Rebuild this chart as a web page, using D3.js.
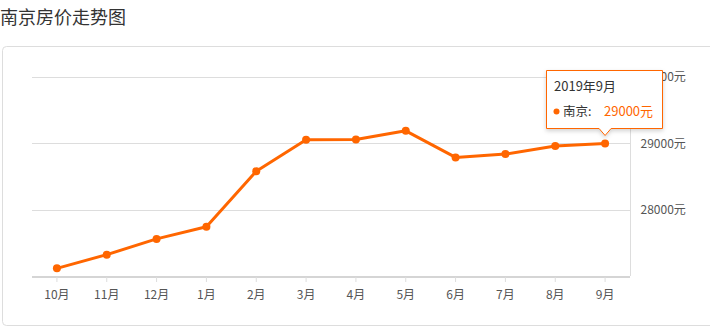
<!DOCTYPE html>
<html><head><meta charset="utf-8">
<script src="https://cdn.jsdelivr.net/npm/d3@7"></script>
<style>
body{margin:0;background:#fff;font-family:"Microsoft YaHei","Noto Sans CJK SC",sans-serif;}
</style></head>
<body><svg id="c" width="710" height="329"></svg>
<script>
const categories = ["10月","11月","12月","1月","2月","3月","4月","5月","6月","7月","8月","9月"];
const values = [27120,27326,27563,27745,28580,29055,29060,29190,28790,28840,28960,29000];
const yTicks = [28000,29000,30000];
const title = "南京房价走势图";
const seriesName = "南京";
const tipLabel = "2019年9月";
const tipIndex = 11;

const svg = d3.select("#c");
const font = '"Microsoft YaHei","Noto Sans CJK SC",sans-serif';
const orange = "#ff6600";

svg.append("text").attr("x",0).attr("y",24).attr("font-size",18).attr("fill","#333")
  .attr("font-family",font).text(title);

svg.append("rect").attr("x",2.5).attr("y",46.5).attr("width",712).attr("height",279)
  .attr("rx",4).attr("fill","none").attr("stroke","#ddd");

const x = d3.scaleBand().domain(categories).range([32,630]);
const y = d3.scaleLinear().domain([27000,30000]).range([276.3,77]);

// grid
svg.append("g").selectAll("line").data(yTicks).join("line")
  .attr("x1",32).attr("x2",630).attr("y1",d=>Math.round(y(d))+0.5).attr("y2",d=>Math.round(y(d))+0.5)
  .attr("stroke","#ddd");

// right axis
const yAxis = d3.axisRight(y).tickValues(yTicks).tickSize(0).tickPadding(10).tickFormat(d=>d+"元");
const gy = svg.append("g").attr("transform","translate(630.5,0)").call(yAxis);
gy.select(".domain").attr("stroke","#ddd").attr("d","M0,77V276");
gy.selectAll("text").attr("font-size",12).attr("fill","#555").attr("font-family",font);

// x axis
const xAxis = d3.axisBottom(x).tickSize(5).tickPadding(8);
const gx = svg.append("g").attr("transform","translate(0,277)").call(xAxis);
gx.select(".domain").attr("stroke","#d5d5d5").attr("stroke-width",2).attr("d","M32,0H630");
gx.selectAll(".tick line").attr("stroke","#ddd");
gx.selectAll("text").attr("font-size",12).attr("fill","#555").attr("font-family",font);

const cx = d => x(d) + x.bandwidth()/2;

const line = d3.line().x((d,i)=>cx(categories[i])).y(d=>y(d));
svg.append("path").datum(values).attr("d",line).attr("fill","none")
  .attr("stroke",orange).attr("stroke-width",3).attr("stroke-linejoin","round");
svg.append("g").selectAll("circle").data(values).join("circle")
  .attr("cx",(d,i)=>cx(categories[i])).attr("cy",d=>y(d)).attr("r",4).attr("fill",orange);

// tooltip
const px = cx(categories[tipIndex]), py = y(values[tipIndex]);
const tx = 546.5, ty = 70.5, tw = 116, th = 58;
const defs = svg.append("defs");
const f = defs.append("filter").attr("id","sh").attr("x","-20%").attr("y","-20%").attr("width","140%").attr("height","160%");
f.append("feDropShadow").attr("dx",0).attr("dy",2).attr("stdDeviation",2).attr("flood-color","#000").attr("flood-opacity",0.18);
const tip = svg.append("g");
const tipPath = `M${tx},${ty}H${tx+tw}V${ty+th}H${px+6}L${px},${ty+th+7}L${px-6},${ty+th}H${tx}Z`;
tip.append("path").attr("d",tipPath).attr("fill","#fff").attr("stroke",orange).attr("filter","url(#sh)");
tip.append("text").attr("x",554).attr("y",91).attr("font-size",13).attr("fill","#333").attr("font-family",font).text(tipLabel);
tip.append("circle").attr("cx",556.5).attr("cy",111.5).attr("r",3).attr("fill",orange);
tip.append("text").attr("x",563).attr("y",116).attr("font-size",12.5).attr("fill","#333").attr("font-family",font).text(seriesName+":");
tip.append("text").attr("x",604).attr("y",116).attr("font-size",13).attr("fill",orange).attr("font-family",font).text(values[tipIndex]+"元");
</script></body></html>
